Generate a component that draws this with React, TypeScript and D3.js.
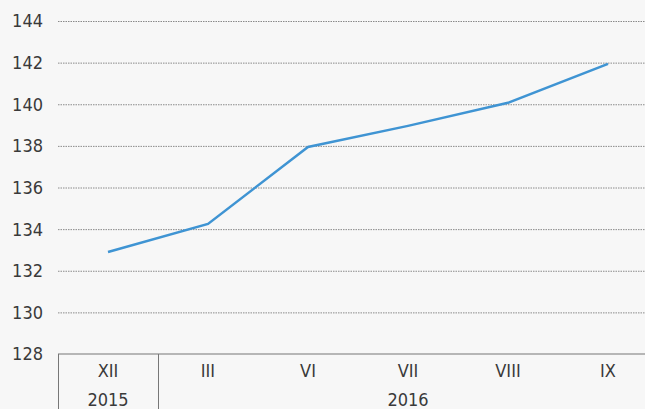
import React from "react";
import * as d3 from "d3";

const categories = ["XII", "III", "VI", "VII", "VIII", "IX"];
const values = [132.9, 134.25, 137.95, 138.96, 140.07, 141.94];
const yTicks = [128, 130, 132, 134, 136, 138, 140, 142, 144];
const years = [
  { label: "2015", from: 0, to: 0 },
  { label: "2016", from: 1, to: 5 },
];

const W = 645;
const H = 409;
const FONT = "'DejaVu Sans Condensed', 'Liberation Sans Narrow', Roboto, sans-serif";

export default function App() {
  const x = d3.scaleBand<string>().domain(categories).range([58, 658]);
  const y = d3.scaleLinear().domain([128, 144]).range([354, 21]);
  const line = d3
    .line<number>()
    .x((_, i) => (x(categories[i]) as number) + x.bandwidth() / 2)
    .y((d) => y(d));

  return (
    <svg
      width={W}
      height={H}
      style={{ position: "absolute", left: 0, top: 0, background: "#f7f7f7" }}
    >
      <rect x={0} y={0} width={W} height={H} fill="#f7f7f7" />
      {yTicks.map((t) => (
        <g key={t}>
          {t > 128 && (
            <line
              x1={58}
              x2={W}
              y1={y(t) + 0.5}
              y2={y(t) + 0.5}
              stroke="#8a8a8a"
              strokeWidth={1}
              strokeDasharray="1.5,1"
            />
          )}
          <text
            x={43}
            y={y(t)}
            dy="0.36em"
            textAnchor="end"
            fontFamily={FONT}
            fontSize={18}
            fill="#3a3a3a"
          >
            {t}
          </text>
        </g>
      ))}
      <line x1={58} x2={W} y1={354} y2={354} stroke="#a0a0a0" strokeWidth={1.5} />
      <line x1={58.5} x2={58.5} y1={354} y2={H} stroke="#777" strokeWidth={1} />
      {years.map((yr) => {
        const x0 = x(categories[yr.from]) as number;
        const x1 = (x(categories[yr.to]) as number) + x.bandwidth();
        return (
          <g key={yr.label}>
            {yr.from > 0 && (
              <line x1={x0 + 0.5} x2={x0 + 0.5} y1={354} y2={H} stroke="#777" strokeWidth={1} />
            )}
            <text
              x={(x0 + x1) / 2}
              y={400}
              dy="0.36em"
              textAnchor="middle"
              fontFamily={FONT}
              fontSize={18}
              fill="#3a3a3a"
            >
              {yr.label}
            </text>
          </g>
        );
      })}
      {categories.map((c) => (
        <text
          key={c}
          x={(x(c) as number) + x.bandwidth() / 2}
          y={371}
          dy="0.36em"
          textAnchor="middle"
          fontFamily={FONT}
          fontSize={18}
          fill="#3a3a3a"
        >
          {c}
        </text>
      ))}
      <path d={line(values) || ""} fill="none" stroke="#3f94d3" strokeWidth={2.5} />
    </svg>
  );
}
